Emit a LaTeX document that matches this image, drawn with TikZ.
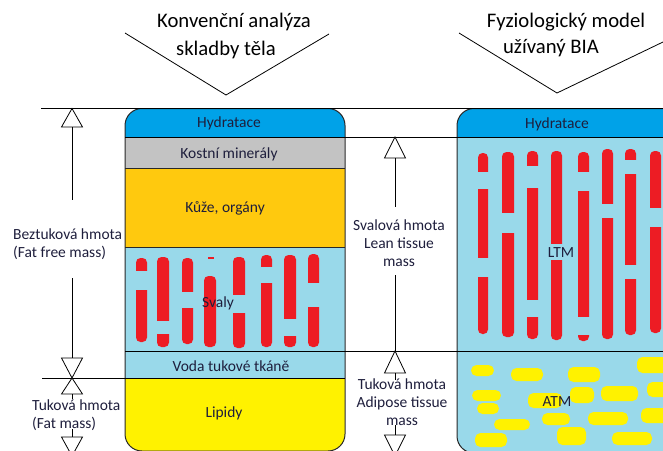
\documentclass[tikz,border=0pt]{standalone}
\usepackage{fontspec}
\setmainfont{Carlito}
\definecolor{hyd}{HTML}{00A2E8}
\definecolor{bone}{HTML}{C3C3C3}
\definecolor{organ}{HTML}{FFC90E}
\definecolor{lblue}{HTML}{99D9EA}
\definecolor{lipid}{HTML}{FFF200}
\definecolor{musc}{HTML}{ED1C24}
\definecolor{txt}{RGB}{30,30,60}
\definecolor{edge}{RGB}{40,40,40}
\tikzset{
  ln/.style={draw=black, line width=0.8pt},
  band/.style={draw=edge, line width=0.8pt},
  tri/.style={draw=black, fill=white, line width=0.8pt, line join=miter},
  lbl/.style={font=\fontsize{15.5}{18}\selectfont, text=txt, inner sep=0pt, align=center},
  ttl/.style={font=\fontsize{20.7}{28}\selectfont, text=black, inner sep=0pt},
  muscbar/.style={fill=musc, rounded corners=4.5pt},
  gapbar/.style={fill=lblue},
  fatblob/.style={fill=lipid, rounded corners=5.5pt},
}
\begin{document}
\begin{tikzpicture}[x=1pt,y=-1pt]
\useasboundingbox (0,0) rectangle (663,450);

% ---------- titles ----------
\node[ttl] (t1a) at (234,22) {Konvenční analýza};
\node[ttl] (t1b) at (226,50) {skladby těla};
\node[ttl] (t2a) at (566,22) {Fyziologický model};
\node[ttl] (t2b) at (551,48) {užívaný BIA};
\coordinate (v1l) at (125,33);
\coordinate (v1a) at (226,95);
\coordinate (v1r) at (329,34);
\draw[ln] (v1l) -- (v1a) -- (v1r);
\coordinate (v2l) at (459,33);
\coordinate (v2a) at (557,93);
\coordinate (v2r) at (663,42);
\draw[ln] (v2l) -- (v2a) -- (v2r);

% ---------- left column ----------
\begin{scope}
\clip[rounded corners=17pt] (125,108.5) rectangle (345,451);
\fill[hyd] (125,108.5) rectangle (345,137);
\fill[bone] (125,137) rectangle (345,168);
\fill[organ] (125,168) rectangle (345,247);
\fill[lblue] (125,247) rectangle (345,378);
\fill[lipid] (125,378) rectangle (345,451);
% muscle bars
\foreach \xa/\xb/\ya/\yb/\ga/\gb in {
  136/147/258/342/271/290,
  157/169/257/347/321/334,
  182/193/258/344/292/308,
  233/245/257/348/295/313,
  261/272/255/347/267/283,
  284/296/255/347/319/336,
  308/319/254/347/283/307}{
  \fill[muscbar] (\xa,\ya) rectangle (\xb,\yb);
  \fill[gapbar] (\xa-0.5,\ga) rectangle (\xb+0.5,\gb);
}
\fill[muscbar] (204,276) rectangle (216,347);
\fill[musc] (208,256.5) rectangle (214,258.5);
\end{scope}
\draw[band, line width=1pt, rounded corners=17pt] (125,108.5) rectangle (345,451);
\draw[band] (125,168) -- (345,168);
\draw[band] (125,247) -- (345,247);

% ---------- right column ----------
\begin{scope}
\clip[rounded corners=17pt] (457,108.5) rectangle (720,453);
\fill[hyd] (457,108.5) rectangle (720,137);
\fill[lblue] (457,137) rectangle (720,453);
\foreach \xa/\xb/\ya/\yb in {
  478/488/153/334, 502/514/152/337, 527/538/151/339, 551/562/151/340,
  578/589/152/341, 602/613/149/339, 625/636/149/335, 650/661/151/333}{
  \fill[muscbar] (\xa,\ya) rectangle (\xb,\yb);
}
\foreach \xa/\xb/\ga/\gb in {
  478/488/172/189, 478/488/258/277, 502/514/213/233,
  527/538/166/188, 527/538/300/317, 551/562/244/260,
  578/589/172/191, 578/589/317/335, 602/613/204/218,
  625/636/160/174, 625/636/265/279, 650/661/208/227}{
  \fill[gapbar] (\xa-0.5,\ga) rectangle (\xb+0.5,\gb);
}
\foreach \xa/\ya/\xb/\yb in {
  471/365/494/376, 511/368/543/381, 568/367/600/382, 637/357/672/373,
  472/390/501/401, 528/393/562/408, 570/387/594/403, 601/386/638/401,
  647/382/672/397, 477/403/499/414, 542/413/570/425, 588/412/628/425,
  641/408/672/423, 494/419/530/430, 557/427/586/445, 475/433/507/447,
  612/432/652/445}{
  \fill[fatblob] (\xa,\ya) rectangle (\xb,\yb);
}
\end{scope}
\draw[band, line width=1pt, rounded corners=17pt] (457,108.5) rectangle (720,453);

% ---------- horizontal reference lines ----------
\draw[ln] (41,108.5) -- (663,108.5);
\draw[ln] (125,137) -- (663,137);
\draw[ln] (125,351) -- (663,351);
\draw[ln] (42,378) -- (345,378);

% ---------- layer labels ----------
\node[lbl] (h1) at (229,123) {Hydratace};
\node[lbl] (km) at (229,154) {Kostní minerály};
\node[lbl] (ko) at (225,208) {Kůže, orgány};
\node[lbl] (sv) at (218,303) {Svaly};
\node[lbl] (vt) at (231,366) {Voda tukové tkáně};
\node[lbl] (li) at (224,413) {Lipidy};
\node[lbl] (h2) at (557,124) {Hydratace};
\node[lbl] (ltm) at (561,253) {LTM};
\node[lbl] (atm) at (557,402) {ATM};

% ---------- side labels ----------
\node[lbl, anchor=west, align=left] (ffm) at (13,244) {Beztuková hmota\\(Fat free mass)};
\node[lbl, anchor=west, align=left] (fm) at (32,415) {Tuková hmota\\(Fat mass)};
\node[lbl] (ltmlbl) at (399,243) {Svalová hmota\\Lean tissue\\mass};
\node[lbl] (atmlbl) at (402,402) {Tuková hmota\\Adipose tissue\\mass};

% ---------- left arrows ----------
\coordinate (la1) at (72,108.5);
\coordinate (la2) at (72,378);
\draw[tri] (la1) -- ++(10.5,18.5) -- ++(-21,0) -- cycle;
\draw[ln] (72,127) -- (72,200);
\draw[ln] (72,278) -- (72,358);
\draw[tri] (la2) -- ++(10.5,-20) -- ++(-21,0) -- cycle;
\draw[tri] (la2) -- ++(10.5,16) -- ++(-21,0) -- cycle;
\draw[ln] (72,394) -- (72,399);
\draw[ln] (72,429) -- (72,437);
\draw[tri] (61.5,437) -- (82.5,437) -- (72,456) -- cycle;

% ---------- middle arrows ----------
\coordinate (ma1) at (395,137);
\coordinate (ma2) at (395,351);
\draw[tri] (ma1) -- ++(10.5,21) -- ++(-21,0) -- cycle;
\draw[ln] (395,158) -- (395,207);
\draw[ln] (395,275) -- (ma2);
\draw[tri] (ma2) -- ++(10.5,22) -- ++(-21,0) -- cycle;
\draw[ln] (395,373) -- (395,380);
\draw[ln] (395,425) -- (395,435);
\draw[tri] (384.5,435) -- (405.5,435) -- (395,456) -- cycle;
\end{tikzpicture}
\end{document}
